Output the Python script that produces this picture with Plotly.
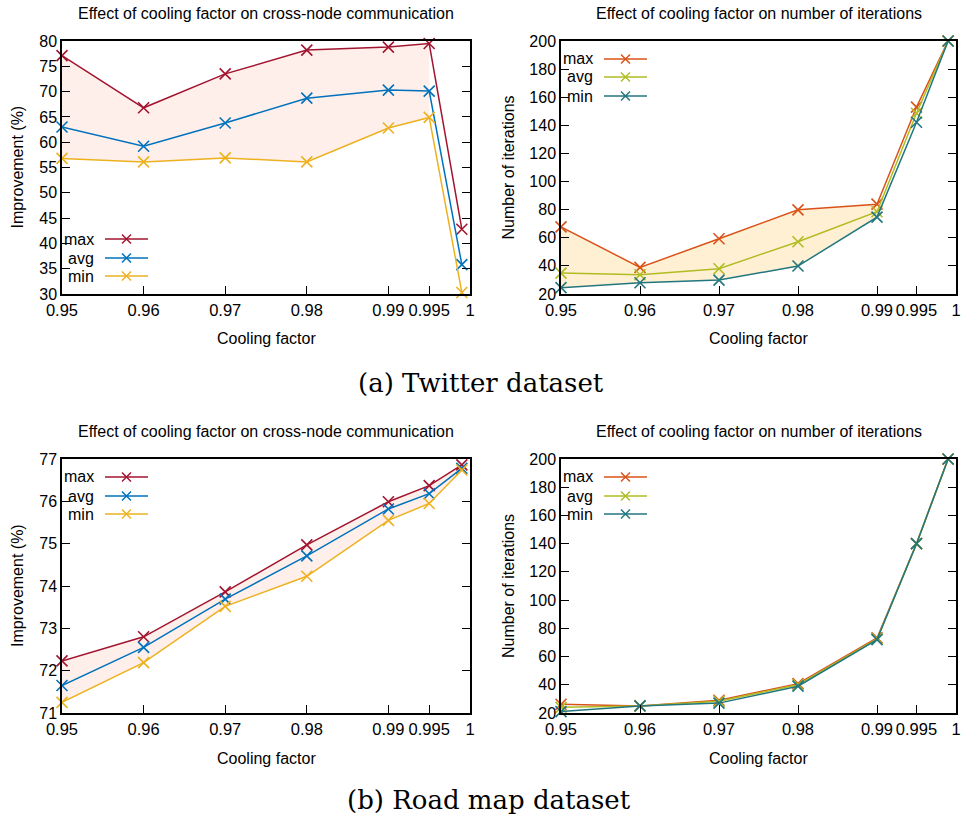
import plotly.graph_objects as go

W, H = 962, 820

# ---------------- data ----------------
cooling = [0.95, 0.96, 0.97, 0.98, 0.99, 0.995, 0.999]
x_tickvals = [0.95, 0.96, 0.97, 0.98, 0.99, 0.995, 1.0]
x_ticktext = ["0.95", "0.96", "0.97", "0.98", "0.99", "0.995", "1"]

tw_comm_max = [77.1, 66.8, 73.5, 78.2, 78.8, 79.5, 42.8]
tw_comm_avg = [63.0, 59.2, 63.8, 68.7, 70.3, 70.1, 35.8]
tw_comm_min = [56.8, 56.1, 56.9, 56.1, 62.8, 64.9, 30.3]

tw_iter_max = [67.8, 38.9, 59.3, 79.9, 83.9, 153.0, 200]
tw_iter_avg = [34.9, 33.7, 38.0, 57.2, 78.5, 148.6, 200]
tw_iter_min = [24.5, 28.0, 29.9, 39.9, 74.7, 142.2, 200]

rm_comm_max = [72.23, 72.80, 73.86, 74.97, 75.99, 76.37, 76.86]
rm_comm_avg = [71.65, 72.55, 73.69, 74.71, 75.82, 76.18, 76.78]
rm_comm_min = [71.25, 72.19, 73.52, 74.23, 75.55, 75.95, 76.74]

rm_iter_max = [26.2, 25.0, 29.0, 40.8, 73.2, 140.0, 200]
rm_iter_avg = [24.0, 25.0, 28.3, 40.0, 72.5, 140.0, 200]
rm_iter_min = [21.0, 25.0, 27.0, 39.0, 72.0, 140.0, 200]

series_names = ["max", "avg", "min"]
title_comm = "Effect of cooling factor on cross-node communication"
title_iter = "Effect of cooling factor on number of iterations"
captions = ["(a) Twitter dataset", "(b) Road map dataset"]

# ---------------- styling ----------------
COLORS_COMM = ["#A2142F", "#0072BD", "#EDB120"]
COLORS_ITER = ["#D95319", "#B0BC22", "#22767E"]
FILL_COMM = "rgba(250,190,170,0.25)"
FILL_ITER = "rgba(255,215,140,0.38)"
SANS = "Liberation Sans, Arial, sans-serif"
SERIF = "DejaVu Serif, serif"


def px(x):
    return x / W


def py(y):
    return 1 - y / H


panels = [
    dict(ax="", data=[tw_comm_max, tw_comm_avg, tw_comm_min], colors=COLORS_COMM,
         fill_end=5, fill=FILL_COMM, yr=[30, 80], dtick=5,
         dom=(62, 470, 41, 294), title=title_comm, ytitle="Improvement (%)",
         ytx=17, leg=(96, [239, 258, 276])),
    dict(ax="2", data=[tw_iter_max, tw_iter_avg, tw_iter_min], colors=COLORS_ITER,
         fill_end=4, fill=FILL_ITER, yr=[20, 200], dtick=20,
         dom=(561, 956, 41, 294), title=title_iter, ytitle="Number of iterations",
         ytx=508, leg=(595, [59, 77, 96])),
    dict(ax="3", data=[rm_comm_max, rm_comm_avg, rm_comm_min], colors=COLORS_COMM,
         fill_end=6, fill=FILL_COMM, yr=[71, 77], dtick=1,
         dom=(62, 470, 459, 713), title=title_comm, ytitle="Improvement (%)",
         ytx=17, leg=(96, [477, 496, 514])),
    dict(ax="4", data=[rm_iter_max, rm_iter_avg, rm_iter_min], colors=COLORS_ITER,
         fill_end=None, fill=None, yr=[20, 200], dtick=20,
         dom=(561, 956, 459, 713), title=title_iter, ytitle="Number of iterations",
         ytx=508, leg=(595, [477, 496, 514])),
]

fig = go.Figure()
annotations = []
shapes = []
layout_axes = {}

for p in panels:
    xa = "x" + p["ax"]
    ya = "y" + p["ax"]
    hi, mid, lo = p["data"]
    if p["fill_end"] is not None:
        n = p["fill_end"] + 1
        xs = cooling[:n] + cooling[:n][::-1]
        ys = hi[:n] + lo[:n][::-1]
        fig.add_trace(go.Scatter(x=xs, y=ys, xaxis=xa, yaxis=ya, mode="none",
                                 fill="toself", fillcolor=p["fill"],
                                 hoverinfo="skip", showlegend=False))
    for name, vals, col in zip(series_names, p["data"], p["colors"]):
        fig.add_trace(go.Scatter(
            x=cooling, y=vals, xaxis=xa, yaxis=ya, mode="lines+markers", name=name,
            line=dict(color=col, width=1.5),
            marker=dict(symbol="x-thin", size=11, line=dict(color=col, width=1.6)),
            showlegend=False, cliponaxis=False))

    x0, x1, y0, y1 = p["dom"]
    layout_axes["xaxis" + p["ax"]] = dict(
        domain=[px(x0), px(x1)], range=[0.95, 1.0], anchor=ya, automargin=False,
        tickvals=x_tickvals, ticktext=x_ticktext, ticks="inside", ticklen=8,
        tickwidth=1, tickcolor="black", showline=True, linecolor="black", linewidth=1.5,
        mirror=True, showgrid=False, zeroline=False,
        tickfont=dict(family=SANS, size=16.5, color="black"))
    layout_axes["yaxis" + p["ax"]] = dict(
        domain=[py(y1), py(y0)], range=p["yr"], dtick=p["dtick"], anchor=xa,
        automargin=False,
        ticks="inside", ticklen=8, tickwidth=1, tickcolor="black",
        showline=True, linecolor="black", linewidth=1.5, mirror="ticks",
        showgrid=False, zeroline=False,
        tickfont=dict(family=SANS, size=16, color="black"))

    # panel title
    ty = 13 if p["ax"] in ("", "2") else 431
    annotations.append(dict(text=p["title"], x=px((x0 + x1) / 2), y=py(ty),
                            xref="paper", yref="paper", showarrow=False,
                            xanchor="center", yanchor="middle",
                            font=dict(family=SANS, size=16, color="black")))
    # x axis title
    annotations.append(dict(text="Cooling factor", x=px((x0 + x1) / 2), y=py(y1 + 45),
                            xref="paper", yref="paper", showarrow=False,
                            xanchor="center", yanchor="middle",
                            font=dict(family=SANS, size=16, color="black")))
    # y axis title
    annotations.append(dict(text=p["ytitle"], x=px(p["ytx"]), y=py((y0 + y1) / 2),
                            xref="paper", yref="paper", showarrow=False, textangle=-90,
                            xanchor="center", yanchor="middle",
                            font=dict(family=SANS, size=16, color="black")))

    # gnuplot-style legend: text then line sample with marker
    tx, rows = p["leg"]
    for name, col, ry in zip(series_names, p["colors"], rows):
        annotations.append(dict(text=name, x=px(tx), y=py(ry), xref="paper", yref="paper",
                                showarrow=False, xanchor="right", yanchor="middle",
                                font=dict(family=SANS, size=16, color="black")))
        lx0, lx1 = tx + 9, tx + 52
        cx = (lx0 + lx1) / 2
        shapes.append(dict(type="line", xref="paper", yref="paper",
                           x0=px(lx0), x1=px(lx1), y0=py(ry), y1=py(ry),
                           line=dict(color=col, width=1.5)))
        for dy in (-1, 1):
            shapes.append(dict(type="line", xref="paper", yref="paper",
                               x0=px(cx - 4.5), x1=px(cx + 4.5),
                               y0=py(ry - 4.5 * dy), y1=py(ry + 4.5 * dy),
                               line=dict(color=col, width=1.5)))

# captions
annotations.append(dict(text=captions[0], x=px(481), y=py(383), xref="paper", yref="paper",
                        showarrow=False, xanchor="center", yanchor="middle",
                        font=dict(family=SERIF, size=26, color="black")))
annotations.append(dict(text=captions[1], x=px(489), y=py(800), xref="paper", yref="paper",
                        showarrow=False, xanchor="center", yanchor="middle",
                        font=dict(family=SERIF, size=26, color="black")))

fig.update_layout(width=W, height=H, margin=dict(l=0, r=0, t=0, b=0),
                  paper_bgcolor="white", plot_bgcolor="white",
                  showlegend=False, annotations=annotations, shapes=shapes,
                  **layout_axes)

fig.write_html("out.html", config={"displayModeBar": False},
               post_script="document.body.style.margin='0px';")
